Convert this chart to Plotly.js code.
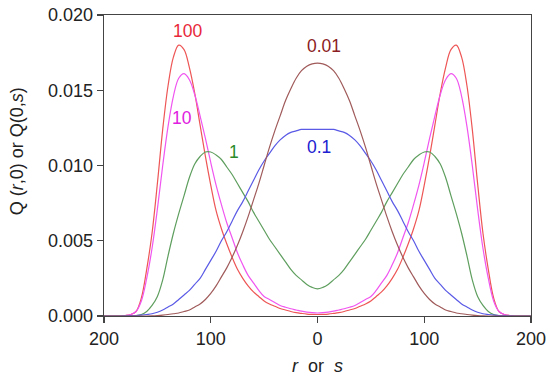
<!DOCTYPE html>
<html>
<head>
<meta charset="utf-8">
<script src="https://cdn.plot.ly/plotly-3.0.1.min.js"></script>
<style>html,body{margin:0;padding:0;background:#fff;}#chart{width:550px;height:379px;}</style>
</head>
<body>
<div id="chart"></div>
<script>
// sample positions (r or s)
var xs = [-200,-195,-190,-185,-180,-175,-170,-165,-160,-155,-150,-145,-140,-135,-130,-125,-120,-115,-110,-105,-100,-95,-90,-85,-80,-75,-70,-65,-60,-55,-50,-45,-40,-35,-30,-25,-20,-15,-10,-5,0,
          5,10,15,20,25,30,35,40,45,50,55,60,65,70,75,80,85,90,95,100,105,110,115,120,125,130,135,140,145,150,155,160,165,170,175,180,185,190,195,200];

var q100 = [0,0,0,0,0.00003,0.0001,0.0003,0.0012,0.0031,0.0055,0.0088,0.0124,0.0153,0.0172,0.0180,0.0177,0.0165,0.0148,0.0127,0.0106,0.0087,0.0070,0.0058,0.0048,0.0039,0.0031,0.0025,0.0020,0.0016,0.0013,0.0010,0.0008,0.00065,0.0005,0.0004,0.0003,0.00022,0.00017,0.00013,0.00011,0.0001,
            0.00011,0.00013,0.00017,0.00022,0.0003,0.0004,0.0005,0.00065,0.0008,0.0010,0.0013,0.0016,0.0020,0.0025,0.0031,0.0039,0.0048,0.0058,0.0070,0.0087,0.0106,0.0127,0.0148,0.0165,0.0177,0.0180,0.0172,0.0153,0.0124,0.0088,0.0055,0.0031,0.0012,0.0003,0.0001,0.00003,0,0,0,0];

var q10 = [0,0,0,0,0.00003,0.0001,0.0003,0.0010,0.0025,0.0045,0.0071,0.0100,0.0126,0.0146,0.0158,0.0161,0.0157,0.0147,0.0133,0.0118,0.0102,0.0087,0.0074,0.0062,0.0052,0.0042,0.0034,0.0027,0.0022,0.0017,0.0013,0.0011,0.0009,0.0007,0.00058,0.00048,0.0004,0.00032,0.00026,0.00022,0.0002,
           0.00022,0.00026,0.00032,0.0004,0.00048,0.00058,0.0007,0.0009,0.0011,0.0013,0.0017,0.0022,0.0027,0.0034,0.0042,0.0052,0.0062,0.0074,0.0087,0.0102,0.0118,0.0133,0.0147,0.0157,0.0161,0.0158,0.0146,0.0126,0.0100,0.0071,0.0045,0.0025,0.0010,0.0003,0.0001,0.00003,0,0,0,0];

var q1 = [0,0,0,0,0,0.00001,0.00003,0.0001,0.0003,0.0007,0.0013,0.0024,0.0040,0.0055,0.0068,0.0080,0.0092,0.0101,0.0106,0.0109,0.0109,0.0107,0.0104,0.0099,0.0094,0.0088,0.0082,0.0076,0.0069,0.0063,0.0057,0.0051,0.0046,0.0041,0.0036,0.0031,0.0027,0.0024,0.0021,0.0019,0.0018,
          0.0019,0.0021,0.0024,0.0027,0.0031,0.0036,0.0041,0.0046,0.0051,0.0057,0.0063,0.0069,0.0076,0.0082,0.0088,0.0094,0.0099,0.0104,0.0107,0.0109,0.0109,0.0106,0.0101,0.0092,0.0080,0.0068,0.0055,0.0040,0.0024,0.0013,0.0007,0.0003,0.0001,0.00003,0.00001,0,0,0,0,0];

var q01 = [0,0,0,0,0.00001,0.00002,0.00003,0.00006,0.0001,0.00015,0.00025,0.0004,0.0006,0.0008,0.0011,0.0014,0.0017,0.0021,0.0025,0.0031,0.0037,0.0043,0.0050,0.0056,0.0063,0.0070,0.0076,0.0083,0.0090,0.0097,0.0103,0.0108,0.0113,0.0117,0.0120,0.0122,0.0123,0.0124,0.0124,0.0124,0.0124,
           0.0124,0.0124,0.0124,0.0123,0.0122,0.0120,0.0117,0.0113,0.0108,0.0103,0.0097,0.0090,0.0083,0.0076,0.0070,0.0063,0.0056,0.0050,0.0043,0.0037,0.0031,0.0025,0.0021,0.0017,0.0014,0.0011,0.0008,0.0006,0.0004,0.00025,0.00015,0.0001,0.00006,0.00003,0.00002,0.00001,0,0,0,0];

var q001 = [0,0,0,0,0,0,0,0,0,0.00001,0.00003,0.00006,0.0001,0.00015,0.0002,0.0003,0.0004,0.0006,0.0008,0.0011,0.0015,0.0020,0.0026,0.0032,0.0039,0.0047,0.0056,0.0066,0.0077,0.0088,0.0100,0.0112,0.0123,0.0133,0.0143,0.0151,0.0158,0.0163,0.0166,0.01675,0.0168,
            0.01675,0.0166,0.0163,0.0158,0.0151,0.0143,0.0133,0.0123,0.0112,0.0100,0.0088,0.0077,0.0066,0.0056,0.0047,0.0039,0.0032,0.0026,0.0020,0.0015,0.0011,0.0008,0.0006,0.0004,0.0003,0.0002,0.00015,0.0001,0.00006,0.00003,0.00001,0,0,0,0,0,0,0,0,0];

var xTickVals = [-200,-100,0,100,200];
var xTickText = ["200","100","0","100","200"];
var yTickVals = [0,0.005,0.010,0.015,0.020];
var yTickText = ["0.000","0.005","0.010","0.015","0.020"];

var labels = ["100","10","1","0.1","0.01"];
var labelX = [-121.5,-127.2,-78.6,1.2,6.1];
var labelY = [0.01895,0.01317,0.0109,0.0112,0.01793];

var lineColors = ["#EE5555","#F055F0","#5E9E5E","#5A5AE6","#A05A5A"];
var textColors = ["#E8283A","#E020E0","#2A8A2A","#2020D0","#8B1C24"];
var series = [q100,q10,q1,q01,q001];

var FONT = "Liberation Sans, Arial, Helvetica, sans-serif";

var traces = series.map(function(s,i){
  return {x: xs, y: s, type:"scatter", mode:"lines",
          line:{color: lineColors[i], width:1.2, shape:"spline", smoothing:1}, hoverinfo:"skip", showlegend:false};
});

var annotations = labels.map(function(t,i){
  return {x: labelX[i], y: labelY[i], xref:"x", yref:"y", text: t, showarrow:false,
          font:{family:FONT, size:17.5, color: textColors[i]}, xanchor:"center", yanchor:"middle"};
});
annotations.push({xref:"paper", yref:"paper", x:-0.203, y:0.548, textangle:-90,
  text:"Q (<i>r</i>,0) or Q(0,<i>s</i>)", showarrow:false, xanchor:"center", yanchor:"middle",
  font:{family:FONT, size:18, color:"#222"}});
annotations.push({xref:"paper", yref:"paper", x:0.5, y:-0.166,
  text:"<i>r</i>  or  <i>s</i>", showarrow:false, xanchor:"center", yanchor:"middle",
  font:{family:FONT, size:18, color:"#222"}});

var axisCommon = {showline:true, linecolor:"#444", linewidth:1.3, mirror:true,
  ticks:"outside", ticklen:6, tickcolor:"#444", tickwidth:1.2,
  showgrid:false, zeroline:false, tickfont:{family:FONT, size:18, color:"#222"}};

var layout = {
  width:550, height:379,
  margin:{l:104, r:19, t:15, b:63, pad:0},
  paper_bgcolor:"#fff", plot_bgcolor:"#fff",
  showlegend:false,
  xaxis: Object.assign({}, axisCommon, {range:[-200,200], tickmode:"array", tickvals:xTickVals, ticktext:xTickText}),
  yaxis: Object.assign({}, axisCommon, {range:[0,0.020], tickmode:"array", tickvals:yTickVals, ticktext:yTickText}),
  annotations: annotations
};

Plotly.newPlot("chart", traces, layout, {staticPlot:true, displayModeBar:false});
</script>
</body>
</html>
